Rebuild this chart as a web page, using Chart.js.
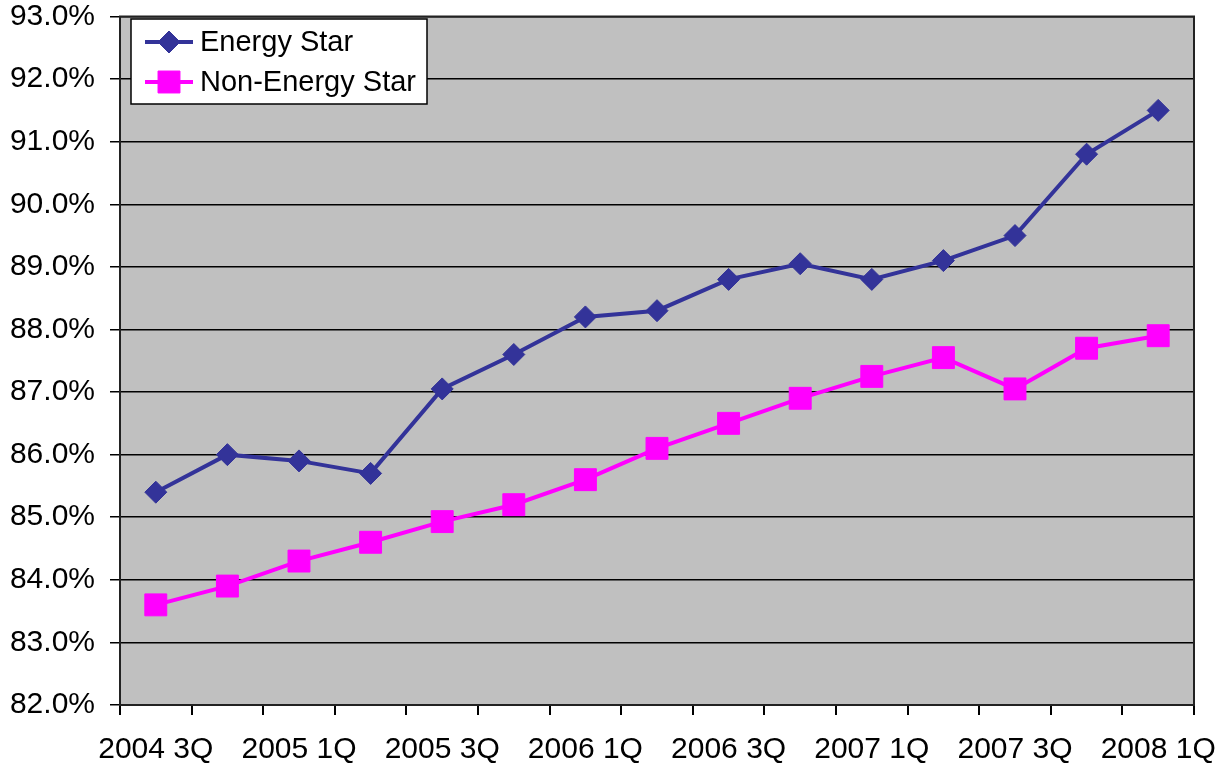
<!DOCTYPE html>
<html>
<head>
<meta charset="utf-8">
<script src="https://cdn.jsdelivr.net/npm/chart.js@4"></script>
<style>
  html, body { margin: 0; padding: 0; background: #fff; }
  #wrap { width: 1227px; height: 765px; }
</style>
</head>
<body>
<div id="wrap"><canvas id="chart" width="1227" height="765"></canvas></div>
<script>
const quarters = [
    '2004 3Q', '2004 4Q', '2005 1Q', '2005 2Q', '2005 3Q', '2005 4Q',
    '2006 1Q', '2006 2Q', '2006 3Q', '2006 4Q', '2007 1Q', '2007 2Q',
    '2007 3Q', '2007 4Q', '2008 1Q'
];
const energyStar = [85.4, 86.0, 85.9, 85.7, 87.05, 87.6, 88.2, 88.3, 88.8, 89.05, 88.8, 89.1, 89.5, 90.8, 91.5];
const nonEnergyStar = [83.6, 83.9, 84.3, 84.6, 84.93, 85.2, 85.6, 86.1, 86.5, 86.9, 87.25, 87.55, 87.05, 87.7, 87.9];
const yMin = 82;
const yMax = 93;

const font = 'Liberation Sans, Arial, sans-serif';

// gray plot area with a dark frame
const plotArea = {
    id: 'plotArea',
    beforeDraw(chart) {
        const { ctx, chartArea: a } = chart;
        ctx.save();
        ctx.fillStyle = '#C0C0C0';
        ctx.fillRect(a.left, a.top, a.right - a.left, a.bottom - a.top);
        ctx.restore();
    },
    afterDraw(chart) {
        const { ctx, chartArea: a } = chart;
        ctx.save();
        ctx.strokeStyle = '#222';
        ctx.lineWidth = 2;
        ctx.strokeRect(a.left, a.top, a.right - a.left, a.bottom - a.top);
        ctx.restore();
    }
};

// legend box drawn inside the plot, top left
const boxLegend = {
    id: 'boxLegend',
    afterDraw(chart) {
        const ctx = chart.ctx;
        const x = 131, y = 19, w = 296, h = 85;
        ctx.save();
        ctx.fillStyle = '#fff';
        ctx.fillRect(x, y, w, h);
        ctx.strokeStyle = '#000';
        ctx.lineWidth = 1.5;
        ctx.strokeRect(x, y, w, h);
        chart.data.datasets.forEach((ds, i) => {
            const cy = y + 23 + i * 40;
            ctx.strokeStyle = ds.borderColor;
            ctx.lineWidth = 4;
            ctx.beginPath();
            ctx.moveTo(145, cy);
            ctx.lineTo(193, cy);
            ctx.stroke();
            ctx.fillStyle = ds.backgroundColor;
            ctx.strokeStyle = ds.borderColor;
            ctx.lineWidth = 1;
            Chart.helpers.drawPoint(ctx, {
                pointStyle: ds.pointStyle,
                radius: ds.pointRadius,
                borderWidth: 1
            }, 169, cy);
            ctx.fillStyle = '#000';
            ctx.font = '29px ' + font;
            ctx.textBaseline = 'middle';
            ctx.fillText(ds.label, 200, cy + 1);
        });
        ctx.restore();
    }
};

new Chart(document.getElementById('chart'), {
    type: 'line',
    data: {
        labels: quarters,
        datasets: [{
            label: 'Energy Star',
            data: energyStar,
            borderColor: '#333399',
            backgroundColor: '#333399',
            borderWidth: 4,
            pointStyle: 'rectRot',
            pointRadius: 11,
            pointBorderWidth: 1,
            tension: 0
        }, {
            label: 'Non-Energy Star',
            data: nonEnergyStar,
            borderColor: '#FF00FF',
            backgroundColor: '#FF00FF',
            borderWidth: 4,
            pointStyle: 'rect',
            pointRadius: 15.5,
            pointBorderWidth: 1,
            tension: 0
        }]
    },
    options: {
        responsive: false,
        animation: false,
        layout: { padding: { top: 14, right: 33, left: 0, bottom: 0 } },
        plugins: {
            legend: { display: false },
            tooltip: { enabled: false }
        },
        scales: {
            x: {
                offset: true,
                grid: {
                    offset: true,
                    drawOnChartArea: false,
                    drawTicks: true,
                    tickLength: 10,
                    color: '#000',
                    lineWidth: 2
                },
                border: { display: false },
                ticks: {
                    autoSkip: false,
                    maxRotation: 0,
                    padding: 17,
                    color: '#000',
                    font: { family: font, size: 30 },
                    callback: (v, i) => i % 2 === 0 ? quarters[i] : ''
                },
                afterFit: (s) => {
                    s.height = 60;
                    s.paddingLeft = 0;
                    s.paddingRight = 0;
                }
            },
            y: {
                min: yMin,
                max: yMax,
                grid: {
                    color: '#000',
                    lineWidth: 1.5,
                    tickLength: 10
                },
                border: { display: false },
                ticks: {
                    stepSize: 1,
                    padding: 15,
                    color: '#000',
                    font: { family: font, size: 30 },
                    callback: (v) => v.toFixed(1) + '%'
                },
                afterFit: (s) => {
                    s.width = 120;
                    s.paddingTop = 0;
                    s.paddingBottom = 0;
                }
            }
        }
    },
    plugins: [plotArea, boxLegend]
});
</script>
</body>
</html>
